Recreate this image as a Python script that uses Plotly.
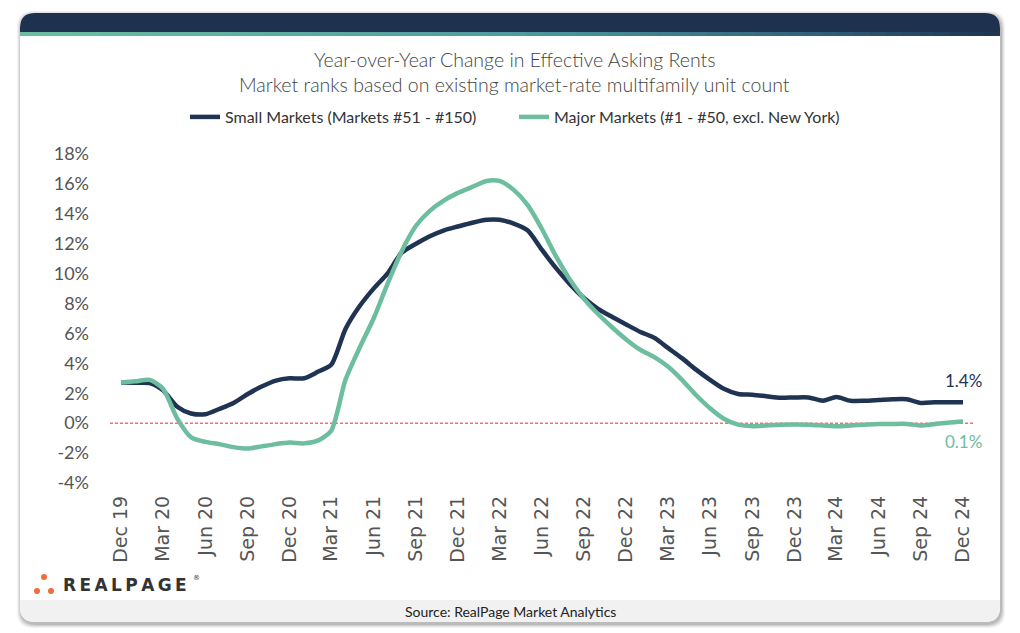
import plotly.graph_objects as go
import pandas as pd

# ---------------- data ----------------
months = pd.date_range("2019-12-01", periods=61, freq="MS")

small_markets = [
    2.72, 2.70, 2.68, 2.20, 1.10, 0.65, 0.60, 0.95, 1.35, 1.95,
    2.45, 2.85, 3.00, 3.00, 3.45, 3.90, 6.30, 7.80, 9.00, 10.00,
    11.40, 12.00, 12.50, 12.90, 13.15, 13.40, 13.60, 13.60, 13.35, 12.90,
    11.60, 10.40, 9.30, 8.35, 7.65, 7.10, 6.60, 6.10, 5.70, 5.05,
    4.35, 3.60, 2.90, 2.30, 1.95, 1.90, 1.80, 1.70, 1.72, 1.72,
    1.50, 1.75, 1.50, 1.50, 1.55, 1.60, 1.60, 1.35, 1.40, 1.40,
    1.40,
]
major_markets = [
    2.72, 2.80, 2.90, 2.30, 0.30, -0.95, -1.25, -1.40, -1.60, -1.70,
    -1.55, -1.40, -1.30, -1.35, -1.15, -0.50, 2.90, 5.00, 7.00, 9.30,
    11.50, 13.20, 14.20, 14.90, 15.40, 15.80, 16.20, 16.20, 15.60, 14.60,
    13.00, 11.20, 9.60, 8.30, 7.30, 6.40, 5.60, 4.90, 4.40, 3.80,
    2.90, 1.90, 1.00, 0.30, -0.10, -0.20, -0.15, -0.10, -0.08, -0.10,
    -0.15, -0.20, -0.15, -0.10, -0.05, -0.05, -0.05, -0.15, -0.05, 0.05,
    0.12,
]
series_names = ["Small Markets (Markets #51 - #150)",
                "Major Markets (#1 - #50, excl. New York)"]
tick_dates = pd.date_range("2019-12-01", periods=21, freq="3MS")
tick_labels = ["Dec 19", "Mar 20", "Jun 20", "Sep 20", "Dec 20", "Mar 21", "Jun 21",
               "Sep 21", "Dec 21", "Mar 22", "Jun 22", "Sep 22", "Dec 22", "Mar 23",
               "Jun 23", "Sep 23", "Dec 23", "Mar 24", "Jun 24", "Sep 24", "Dec 24"]
y_ticks = list(range(-4, 19, 2))
end_labels = ["1.4%", "0.1%"]

# ---------------- styling ----------------
W, H = 1020, 633
NAVY = "#1f3352"
GREEN = "#6dbd9f"
HEADER = "#1e3250"


def px(x):
    return x / W


def py(y):
    return 1 - y / H


def rrect(x0, y0, x1, y1, r, top=True, bottom=True):
    rx, ry = r / W, r / H
    X0, X1 = px(x0), px(x1)
    Y0, Y1 = py(y0), py(y1)  # Y0 is top (larger)
    p = []
    if top:
        p.append(f"M {X0} {Y0 - ry} Q {X0} {Y0} {X0 + rx} {Y0} L {X1 - rx} {Y0} Q {X1} {Y0} {X1} {Y0 - ry}")
    else:
        p.append(f"M {X0} {Y0} L {X1} {Y0}")
    if bottom:
        p.append(f"L {X1} {Y1 + ry} Q {X1} {Y1} {X1 - rx} {Y1} L {X0 + rx} {Y1} Q {X0} {Y1} {X0} {Y1 + ry}")
    else:
        p.append(f"L {X1} {Y1} L {X0} {Y1}")
    p.append("Z")
    return " ".join(p)


shapes = []
# soft shadow
for i, a in enumerate([0.05, 0.06, 0.08, 0.10]):
    g = 4 - i
    shapes.append(dict(type="path", xref="paper", yref="paper", layer="below",
                       path=rrect(20 - g + 1, 13 - g + 2, 1000 + g + 1, 622 + g + 2, 16),
                       fillcolor=f"rgba(0,0,0,{a})", line=dict(width=0)))
# card
shapes.append(dict(type="path", xref="paper", yref="paper", layer="below",
                   path=rrect(20, 13, 1000, 622, 15), fillcolor="white", line=dict(width=0)))
# header
shapes.append(dict(type="path", xref="paper", yref="paper", layer="below",
                   path=rrect(20, 13, 1000, 33, 15, top=True, bottom=False),
                   fillcolor=HEADER, line=dict(width=0)))
# gradient stripe
stops = [(0.0, (109, 191, 160)), (0.5, (78, 158, 160)), (0.8, (50, 100, 125)), (1.0, (31, 51, 82))]


def grad(t):
    for (t0, c0), (t1, c1) in zip(stops[:-1], stops[1:]):
        if t <= t1:
            f = (t - t0) / (t1 - t0)
            return "rgb(%d,%d,%d)" % tuple(int(c0[k] + (c1[k] - c0[k]) * f) for k in range(3))
    return "rgb(31,51,82)"


N = 60
for i in range(N):
    xa = 20 + (980 / N) * i
    xb = 20 + (980 / N) * (i + 1) + 0.6
    shapes.append(dict(type="rect", xref="paper", yref="paper", layer="below",
                       x0=px(xa), x1=px(min(xb, 1000)), y0=py(36), y1=py(32),
                       fillcolor=grad((i + 0.5) / N), line=dict(width=0)))
# footer
shapes.append(dict(type="path", xref="paper", yref="paper", layer="below",
                   path=rrect(20, 600, 1000, 622, 15, top=False, bottom=True),
                   fillcolor="#f1f1f1", line=dict(width=0)))
# zero line
shapes.append(dict(type="line", xref="x domain", yref="y", x0=0, x1=1, y0=0, y1=0,
                   line=dict(color="#ff2020", width=1, dash="3px,2px"), layer="below"))
# logo dots
for cx, cy in [(44, 577), (37, 591), (51, 591)]:
    shapes.append(dict(type="circle", xref="paper", yref="paper",
                       x0=px(cx - 3), x1=px(cx + 3), y0=py(cy - 3), y1=py(cy + 3),
                       fillcolor="#f26b3a", line=dict(width=0)))

fig = go.Figure()
fig.add_trace(go.Scatter(x=months, y=small_markets, name=series_names[0], mode="lines",
                         line=dict(color=NAVY, width=4.5, shape="spline", smoothing=0.7)))
fig.add_trace(go.Scatter(x=months, y=major_markets, name=series_names[1], mode="lines",
                         line=dict(color=GREEN, width=4.5, shape="spline", smoothing=0.7)))


def pann(text, x, y, size, color, family="Lato", xanchor="center", weight=None):
    f = dict(family=family, size=size, color=color)
    if weight:
        f["weight"] = weight
    return dict(text=text, x=px(x), y=py(y), xref="paper", yref="paper", showarrow=False,
                xanchor=xanchor, yanchor="middle", font=f)


annotations = [
    pann("Year-over-Year Change in Effective Asking Rents", 514, 60, 19.5, "#454545", weight=300),
    pann("Market ranks based on existing market-rate multifamily unit count", 514, 85, 19.5, "#454545", weight=300),
    pann("Source: RealPage Market Analytics", 510, 611, 14, "#222222"),
    pann("R\u2009E\u2009A\u2009L\u2009P\u2009A\u2009G\u2009E", 61, 585, 17, "#333333",
         family="DejaVu Sans", xanchor="left", weight="bold"),
    pann("®", 191, 578, 7, "#333333", family="DejaVu Sans", xanchor="left"),
    dict(text=end_labels[0], x=months[-1], y=small_markets[-1], yshift=22, showarrow=False,
         xanchor="center", yanchor="middle", font=dict(family="Lato", size=17, color=NAVY)),
    dict(text=end_labels[1], x=months[-1], y=major_markets[-1], yshift=-20, showarrow=False,
         xanchor="center", yanchor="middle", font=dict(family="Lato", size=17, color=GREEN)),
]

fig.update_layout(
    width=W, height=H,
    margin=dict(l=0, r=0, t=0, b=0, autoexpand=False),
    paper_bgcolor="white", plot_bgcolor="rgba(0,0,0,0)",
    shapes=shapes, annotations=annotations,
    showlegend=True,
    legend=dict(orientation="h", x=px(514), xanchor="center", y=py(117), yanchor="middle",
                font=dict(family="Lato", size=16, color="#333333"),
                entrywidth=284, entrywidthmode="pixels",
                bgcolor="rgba(0,0,0,0)"),
    xaxis=dict(domain=[px(110), px(975)], range=["2019-11-07", "2024-12-27"],
               tickvals=tick_dates, ticktext=tick_labels, tickangle=-90,
               showgrid=False, zeroline=False, showline=False, ticks="", automargin=False,
               tickfont=dict(family="DejaVu Sans", size=19, color="#555555"),
               ticklabelstandoff=8),
    yaxis=dict(domain=[1 - 483 / H, 1 - 154 / H], range=[-4, 18],
               tickvals=y_ticks, ticktext=[f"{v}%" for v in y_ticks],
               showgrid=False, zeroline=False, showline=False, ticks="", automargin=False,
               tickfont=dict(family="Lato", size=18, color="#555555"),
               ticklabelstandoff=20),
)

fig.write_html("out.html", config={"displayModeBar": False},
               post_script="document.body.style.margin='0';document.body.style.overflow='hidden';")
